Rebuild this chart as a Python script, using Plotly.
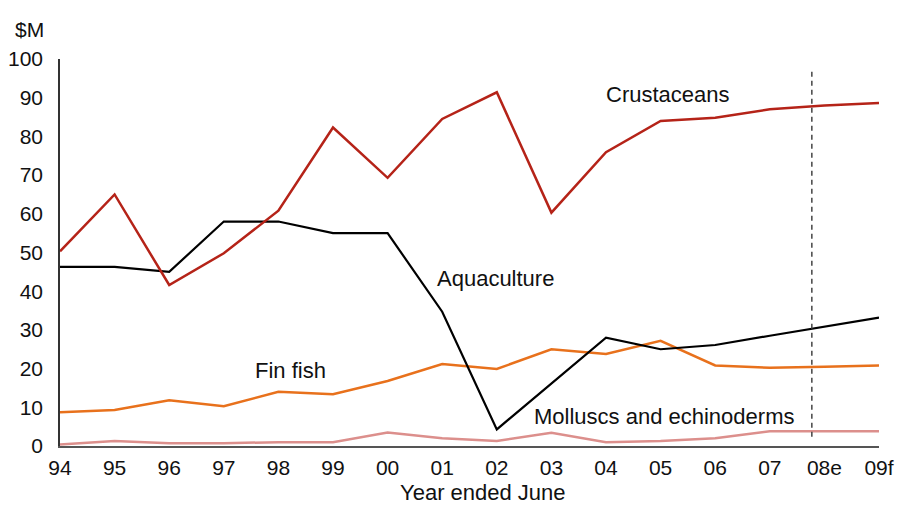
import plotly.graph_objects as go

years = ["94", "95", "96", "97", "98", "99", "00", "01", "02", "03", "04", "05", "06", "07", "08e", "09f"]
crustaceans = [50.3, 65.0, 41.6, 49.8, 60.8, 82.3, 69.3, 84.5, 91.4, 60.3, 75.9, 84.0, 84.8, 87.0, 88.0, 88.6]
aquaculture = [46.3, 46.3, 45.0, 58.0, 58.0, 55.0, 55.0, 34.7, 4.3, 16.2, 28.0, 25.0, 26.1, 28.5, 30.9, 33.2]
fin_fish = [8.7, 9.3, 11.8, 10.3, 14.0, 13.4, 16.8, 21.2, 19.9, 25.0, 23.8, 27.2, 20.8, 20.2, 20.5, 20.8]
molluscs = [0.4, 1.3, 0.7, 0.7, 1.0, 1.0, 3.5, 2.0, 1.3, 3.4, 1.0, 1.3, 2.0, 3.8, 3.8, 3.8]
y_ticks = [0, 10, 20, 30, 40, 50, 60, 70, 80, 90, 100]
forecast_split = 13.77

xpos = list(range(len(years)))
FONT = "Liberation Sans, Arial, sans-serif"
TICK = 21
LAB = 22

fig = go.Figure()
fig.add_trace(go.Scatter(x=xpos, y=molluscs, mode="lines", line=dict(color="#dc8f8c", width=2.5), name="Molluscs and echinoderms"))
fig.add_trace(go.Scatter(x=xpos, y=fin_fish, mode="lines", line=dict(color="#e8711c", width=2.5), name="Fin fish"))
fig.add_trace(go.Scatter(x=xpos, y=aquaculture, mode="lines", line=dict(color="#000000", width=2.2), name="Aquaculture"))
fig.add_trace(go.Scatter(x=xpos, y=crustaceans, mode="lines", line=dict(color="#b52318", width=2.5), name="Crustaceans"))

fig.add_shape(type="line", xref="x", yref="y", x0=forecast_split, x1=forecast_split, y0=2.4, y1=97.2,
              line=dict(color="#444444", width=1.5, dash="5px,4px"))

fig.update_layout(
    width=903, height=507,
    margin=dict(l=59.5, r=24, t=59, b=61, autoexpand=False),
    paper_bgcolor="white", plot_bgcolor="white",
    showlegend=False,
    font=dict(family=FONT, size=LAB, color="#111111"),
    xaxis=dict(range=[0, 15], tickmode="array", tickvals=xpos, ticktext=years, automargin=False,
               showgrid=False, zeroline=False, showline=True, linecolor="#555555", linewidth=2,
               ticks="", ticklabelstandoff=2, tickfont=dict(size=TICK, family=FONT, color="#111111")),
    yaxis=dict(range=[0, 100], tickmode="array", tickvals=y_ticks, automargin=False,
               showgrid=False, zeroline=False, showline=True, linecolor="#333333", linewidth=1.5,
               ticks="", ticklabelstandoff=11, tickfont=dict(size=TICK, family=FONT, color="#111111")),
    annotations=[
        dict(text="$M", xref="paper", yref="paper", x=(12-59.5)/819.5, y=(446-29)/387, xanchor="left", yanchor="middle", showarrow=False, font=dict(size=TICK)),
        dict(text="Year ended June", xref="paper", yref="paper", x=(483-59.5)/819.5, y=(446-493)/387, xanchor="center", yanchor="middle", showarrow=False, font=dict(size=LAB)),
        dict(text="Crustaceans", xref="x", yref="y", x=11.14, y=90.7, xanchor="center", yanchor="middle", showarrow=False, font=dict(size=LAB)),
        dict(text="Aquaculture", xref="x", yref="y", x=7.98, y=43.4, xanchor="center", yanchor="middle", showarrow=False, font=dict(size=LAB)),
        dict(text="Fin fish", xref="x", yref="y", x=4.22, y=19.4, xanchor="center", yanchor="middle", showarrow=False, font=dict(size=LAB)),
        dict(text="Molluscs and echinoderms", xref="x", yref="y", x=11.07, y=7.5, xanchor="center", yanchor="middle", showarrow=False, font=dict(size=LAB)),
    ],
)

fig.write_html("out.html", config={"displayModeBar": False},
               post_script="document.body.style.margin='0';document.body.style.overflow='hidden';")
